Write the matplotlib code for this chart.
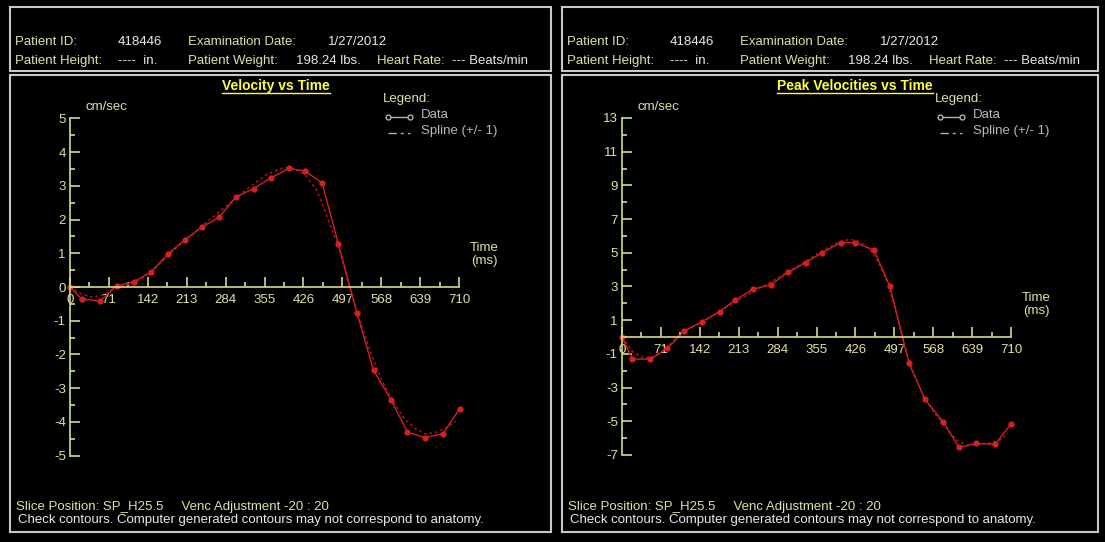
import numpy as np
import matplotlib
matplotlib.use("Agg")
import matplotlib.pyplot as plt
from matplotlib.patches import Rectangle

plt.rcParams['font.family'] = ['Liberation Sans', 'DejaVu Sans']
plt.rcParams['axes.unicode_minus'] = False

# ---- data ----
x_ticks = [0, 71, 142, 213, 284, 355, 426, 497, 568, 639, 710]
x_tick_labels = ['0', '71', '142', '213', '284', '355', '426', '497', '568', '639', '710']

# velocity vs time (cm/sec)
vel_t = [0, 21, 55, 85, 116, 147, 179, 209, 241, 272, 303, 335, 366, 399, 429, 460,
         490, 524, 554, 586, 616, 648, 681, 711]
vel_v = [0, -0.35, -0.42, 0.04, 0.15, 0.44, 0.98, 1.39, 1.78, 2.07, 2.67, 2.92, 3.23,
         3.52, 3.44, 3.09, 1.27, -0.78, -2.47, -3.35, -4.31, -4.47, -4.35, -3.62]
vel_spline_t = [0, 20, 40, 60, 80, 100, 120, 150, 180, 210, 240, 270, 300, 330, 360,
                390, 410, 430, 450, 465, 480, 490, 500, 510, 525, 550, 570, 590, 610,
                630, 650, 670, 690, 705]
vel_spline_v = [0, -0.2, -0.3, -0.25, -0.05, 0.05, 0.15, 0.45, 0.95, 1.38, 1.8, 2.2,
                2.6, 3.0, 3.35, 3.55, 3.5, 3.32, 2.88, 2.28, 1.6, 1.2, 0.6, 0.0, -0.8,
                -2.0, -2.8, -3.4, -3.9, -4.2, -4.37, -4.3, -4.15, -3.97]
vel_yticks = [-5, -4, -3, -2, -1, 0, 1, 2, 3, 4, 5]

# peak velocities vs time (cm/sec)
peak_t = [0, 19, 52, 83, 114, 146, 178, 207, 240, 272, 303, 335, 365, 399, 426, 460,
          489, 524, 553, 586, 615, 647, 681, 710]
peak_v = [0, -1.31, -1.31, -0.67, 0.36, 0.91, 1.5, 2.2, 2.85, 3.1, 3.85, 4.4, 5.0,
          5.6, 5.6, 5.16, 3.0, -1.56, -3.7, -5.03, -6.55, -6.31, -6.37, -5.16]
peak_spline_t = [0, 20, 40, 60, 80, 100, 120, 150, 180, 210, 240, 270, 300, 330, 360,
                 390, 415, 435, 455, 470, 485, 500, 515, 530, 550, 570, 590, 610, 630,
                 650, 670, 690, 705]
peak_spline_v = [0, -0.9, -1.25, -1.15, -0.7, 0.0, 0.45, 0.95, 1.55, 2.15, 2.7, 3.25,
                 3.8, 4.4, 5.0, 5.55, 5.8, 5.65, 5.1, 4.3, 3.2, 1.5, -0.5, -2.0, -3.5,
                 -4.5, -5.3, -6.1, -6.45, -6.35, -6.3, -6.1, -5.7]
peak_yticks = [-7, -5, -3, -1, 1, 3, 5, 7, 9, 11, 13]

# ---- style ----
W, H = 1105, 542
axis_col = '#d8d890'
label_col = '#e0e0a8'
value_col = '#e8e8e8'
title_col = '#ffff40'
box_col = '#c8c8c8'
red = '#d42020'
fs = 9.5

fig = plt.figure(figsize=(W / 100, H / 100), dpi=100, facecolor='black')
bg = fig.add_axes([0, 0, 1, 1])
bg.set_xlim(0, W)
bg.set_ylim(H, 0)
bg.set_facecolor('black')
bg.axis('off')


def txt(x, y, s, color=label_col, **kw):
    bg.text(x, y, s, color=color, fontsize=kw.pop('fontsize', fs), va='center', **kw)


def panel(dx, box_w, title, title_cx, t, v, st, sv, yticks, yminor, y0, yscale, ylim):
    # frames
    bg.add_patch(Rectangle((10 + dx, 7), box_w, 64, fill=False, ec=box_col, lw=1.5))
    bg.add_patch(Rectangle((10 + dx, 75), box_w, 457, fill=False, ec=box_col, lw=1.5))

    # header
    txt(15 + dx, 42, 'Patient ID:')
    txt(118 + dx, 42, '418446', value_col)
    txt(188 + dx, 42, 'Examination Date:')
    txt(328 + dx, 42, '1/27/2012', value_col)
    txt(15 + dx, 61, 'Patient Height:')
    txt(118 + dx, 61, '----  in.', value_col)
    txt(188 + dx, 61, 'Patient Weight:')
    txt(296 + dx, 61, '198.24 lbs.', value_col)
    txt(377 + dx, 61, 'Heart Rate:')
    txt(452 + dx, 61, '--- Beats/min', value_col)

    # title with underline
    tt = bg.text(title_cx, 86, title, color=title_col, fontsize=10, fontweight='bold',
                 ha='center', va='center')
    fig.canvas.draw()
    bb = tt.get_window_extent()
    bg.plot([bb.x0, bb.x1], [93, 93], color=title_col, lw=1)

    # legend
    txt(383 + dx, 99, 'Legend:')
    bg.plot([388 + dx, 410 + dx], [117, 117], color='#b0b0b0', lw=1, marker='o',
            markersize=3.5, markerfacecolor='black', markeredgecolor='#b0b0b0')
    txt(421 + dx, 115, 'Data', '#b8b8b8')
    bg.plot([388 + dx, 410 + dx], [133, 133], color='#b0b0b0', lw=1, ls=(0, (6, 3, 2, 3)))
    txt(421 + dx, 131, 'Spline (+/- 1)', '#b8b8b8')

    # axis captions
    txt(85 + dx, 107, 'cm/sec')
    txt(484 + dx, y0 - 39, 'Time', ha='center')
    txt(484 + dx, y0 - 26, '(ms)', ha='center')

    # bottom notes
    txt(16 + dx, 507, 'Slice Position: SP_H25.5     Venc Adjustment -20 : 20')
    txt(18 + dx, 520, 'Check contours. Computer generated contours may not correspond to anatomy.',
        value_col)

    # data axes: x0 pixel for t=0 is 70+dx, 0.548 px per ms
    x0, xs = 70 + dx, 389 / 710
    xlim = (-20, 760)
    left = (x0 + xlim[0] * xs) / W
    width = (xlim[1] - xlim[0]) * xs / W
    bottom = (H - (y0 - ylim[0] * yscale)) / H
    height = (ylim[1] - ylim[0]) * yscale / H
    ax = fig.add_axes([left, bottom, width, height])
    ax.set_facecolor('none')
    ax.set_xlim(*xlim)
    ax.set_ylim(*ylim)
    for s in ('top', 'right'):
        ax.spines[s].set_visible(False)
    ax.spines['left'].set_position(('data', 0))
    ax.spines['bottom'].set_position(('data', 0))
    ax.spines['left'].set_bounds(yticks[0], yticks[-1])
    ax.spines['bottom'].set_bounds(0, 710)
    for s in ('left', 'bottom'):
        ax.spines[s].set_color(axis_col)
        ax.spines[s].set_linewidth(1.2)
    ax.set_xticks(x_ticks)
    ax.set_xticklabels(x_tick_labels)
    ax.set_xticks([35.5 + 71 * i for i in range(10)], minor=True)
    ax.set_yticks(yticks)
    ax.set_yticks(yminor, minor=True)
    ax.tick_params(which='both', direction='in', colors=axis_col, width=1.2,
                   labelcolor=label_col, labelsize=fs)
    ax.tick_params(which='major', length=7.5)
    ax.tick_params(which='minor', length=3.5)
    ax.tick_params(axis='x', pad=5)
    ax.tick_params(axis='y', pad=3)

    ax.plot(st, sv, color='#b01818', lw=1, ls=(0, (2, 2)), clip_on=False)
    ax.plot(t, v, color=red, lw=1, marker='o', markersize=3.5, clip_on=False)
    return ax


panel(0, 541, 'Velocity vs Time', 276, vel_t, vel_v, vel_spline_t, vel_spline_v,
      vel_yticks, [-4.5 + i for i in range(10)], 287, 33.7, (-5.5, 5.5))
panel(552, 536, 'Peak Velocities vs Time', 855, peak_t, peak_v, peak_spline_t, peak_spline_v,
      peak_yticks, [-6 + 2 * i for i in range(10)], 337, 16.85, (-7.5, 13.5))

fig.savefig('out.png', dpi=100, facecolor='black')
